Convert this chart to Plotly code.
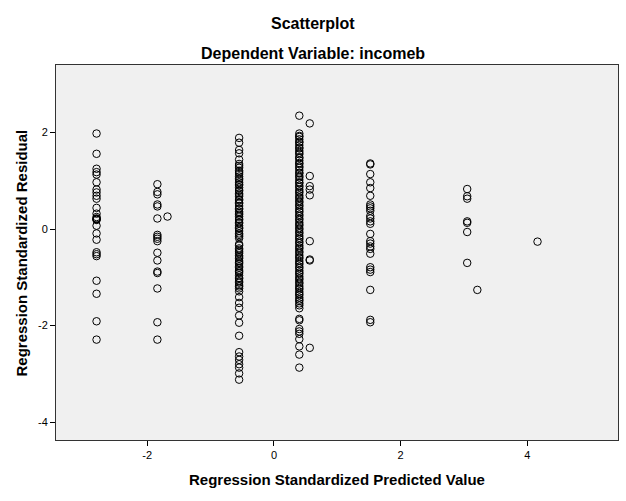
import plotly.graph_objects as go

# Predicted value (x) of each vertical column of points
col_pred = [-2.80, -1.84, -1.68, -0.55, 0.40, 0.565, 1.52, 3.05, 3.21, 4.16]

# Standardized residuals (y) per column
res_c1 = [1.98, 1.56, 1.25, 1.18, 1.13, 0.97, 0.82, 0.76, 0.69, 0.63, 0.44, 0.32, 0.25,
          0.22, 0.20, 0.21, 0.19, 0.07, -0.09, -0.22, -0.48, -0.52, -0.56, -1.07, -1.34,
          -1.91, -2.29]
res_c2 = [0.93, 0.77, 0.72, 0.51, 0.47, 0.22, -0.12, -0.16, -0.20, -0.25, -0.49, -0.65,
          -0.88, -0.91, -1.23, -1.93, -2.29]
res_c2b = [0.26]
res_c3 = [1.89, 1.79, 1.64, 1.57, 1.44, 1.35, 1.31, 1.27, 1.21, 1.18, 1.14, 1.09, 1.05,
          1.02, 0.97, 0.93, 0.91, 0.86, 0.81, 0.79, 0.74, 0.71, 0.68, 0.62, 0.60, 0.55,
          0.53, 0.48, 0.43, 0.41, 0.36, 0.33, 0.30, 0.26, 0.21, 0.19, 0.14, 0.12, 0.07,
          0.03, 0.01, -0.04, -0.09, -0.12, -0.15, -0.19, -0.31, -0.34, -0.40, -0.43,
          -0.47, -0.50, -0.55, -0.58, -0.61, -0.66, -0.69, -0.72, -0.77, -0.80, -0.85,
          -0.88, -0.91, -0.96, -1.01, -1.03, -1.08, -1.11, -1.16, -1.19, -1.23, -1.29,
          -1.41, -1.53, -1.63, -1.79, -1.94, -2.21, -2.55, -2.64, -2.71, -2.80, -2.87,
          -2.99, -3.12]
res_c4 = [2.35, 1.98, 1.93, 1.91, 1.86, 1.81, 1.79, 1.74, 1.69, 1.67, 1.62, 1.58, 1.55,
          1.49, 1.47, 1.42, 1.37, 1.35, 1.30, 1.27, 1.22, 1.17, 1.15, 1.10, 1.07, 1.02,
          0.97, 0.95, 0.90, 0.87, 0.82, 0.78, 0.75, 0.70, 0.66, 0.63, 0.58, 0.55, 0.50,
          0.47, 0.42, 0.38, 0.35, 0.30, 0.27, 0.22, 0.19, 0.14, 0.10, 0.07, 0.02, -0.01,
          -0.06, -0.09, -0.14, -0.18, -0.21, -0.26, -0.29, -0.34, -0.38, -0.41, -0.46,
          -0.49, -0.54, -0.58, -0.61, -0.66, -0.70, -0.73, -0.78, -0.81, -0.86, -0.90,
          -0.93, -0.98, -1.02, -1.05, -1.10, -1.13, -1.18, -1.22, -1.25, -1.30, -1.34,
          -1.37, -1.42, -1.46, -1.49, -1.54, -1.58, -1.64, -1.86, -1.89, -2.07, -2.12,
          -2.17, -2.28, -2.43, -2.60, -2.87]
res_c4b = [2.19, 1.10, 0.89, 0.82, 0.70, -0.25, -0.63, -0.65, -2.46]
res_c5 = [1.36, 1.34, 1.14, 0.97, 0.85, 0.69, 0.51, 0.47, 0.43, 0.38, 0.27, 0.22, 0.16,
          0.11, -0.10, -0.25, -0.30, -0.36, -0.41, -0.51, -0.79, -0.84, -0.89, -1.26,
          -1.88, -1.93]
res_c6 = [0.83, 0.68, 0.63, 0.16, 0.13, -0.06, -0.70]
res_c6b = [-1.26]
res_c7 = [-0.26]

residual_cols = [res_c1, res_c2, res_c2b, res_c3, res_c4, res_c4b, res_c5, res_c6,
                 res_c6b, res_c7]

x_ticks = [-2, 0, 2, 4]
x_tick_labels = ["-2", "0", "2", "4"]
y_ticks = [-4, -2, 0, 2]
y_tick_labels = ["-4", "-2", "0", "2"]

xs, ys = [], []
for px, col in zip(col_pred, residual_cols):
    xs.extend([px] * len(col))
    ys.extend(col)

FONT = "Liberation Sans, Arial, sans-serif"

fig = go.Figure(go.Scatter(
    x=xs, y=ys, mode="markers",
    marker=dict(symbol="circle-open", size=7.5, color="black",
                line=dict(width=1, color="black")),
    hoverinfo="x+y",
))

axis_common = dict(showgrid=False, zeroline=False, showline=True, linecolor="#333333",
                   linewidth=1, mirror=True, ticks="outside", ticklen=5,
                   tickcolor="black", tickfont=dict(family=FONT, size=11, color="black"))

fig.update_layout(
    width=626, height=501,
    margin=dict(l=56, r=8, t=65, b=61),
    paper_bgcolor="white", plot_bgcolor="#F0F0F0",
    showlegend=False,
    xaxis=dict(range=[-3.44, 5.43], tickvals=x_ticks, ticktext=x_tick_labels,
               **axis_common),
    yaxis=dict(range=[-4.37, 3.40], tickvals=y_ticks, ticktext=y_tick_labels,
               **axis_common),
    annotations=[
        dict(text="<b>Scatterplot</b>", xref="paper", yref="paper", x=0.458, y=1.110,
             xanchor="center", yanchor="middle", showarrow=False,
             font=dict(family=FONT, size=16, color="black")),
        dict(text="<b>Dependent Variable: incomeb</b>", xref="paper", yref="paper",
             x=0.458, y=1.031, xanchor="center", yanchor="middle", showarrow=False,
             font=dict(family=FONT, size=16, color="black")),
        dict(text="<b>Regression Standardized Predicted Value</b>", xref="paper",
             yref="paper", x=0.5, y=-0.104, xanchor="center", yanchor="middle",
             showarrow=False, font=dict(family=FONT, size=15, color="black")),
        dict(text="<b>Regression Standardized Residual</b>", xref="paper",
             yref="paper", x=-0.0605, y=0.5, xanchor="center", yanchor="middle",
             textangle=-90, showarrow=False,
             font=dict(family=FONT, size=15, color="black")),
    ],
)

fig.write_html("out.html")
